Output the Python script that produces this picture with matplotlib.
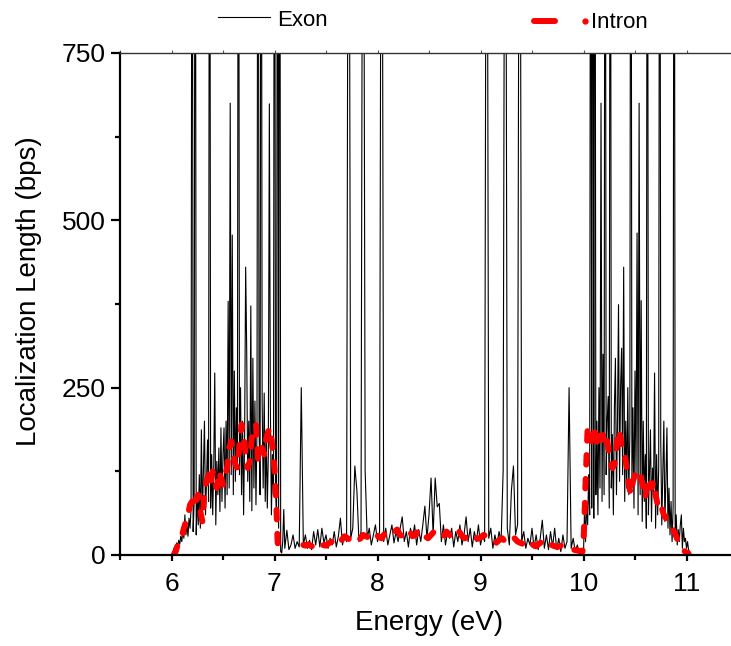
import numpy as np
import matplotlib
matplotlib.use("Agg")
import matplotlib.pyplot as plt
from matplotlib.lines import Line2D
from matplotlib.ticker import MultipleLocator

plt.rcParams["font.family"] = ["Liberation Sans", "DejaVu Sans"]

# Exon localization length, lower band (6.00 - 7.09 eV, step 0.01)
EXON_LOW_START, EXON_LOW_STEP = 6.00, 0.01
exon_low = [
    0, 3, 8, 12, 10, 18, 14, 22, 16, 28,
    20, 38, 25, 60, 30, 45, 28, 55, 40, 70,
    1500, 35, 80, 1500, 30, 90, 45, 120, 40, 187,
    55, 130, 200, 60, 110, 172, 80, 1500, 70, 150,
    60, 130, 272, 45, 140, 90, 160, 65, 190, 80,
    150, 190, 70, 200, 90, 379, 100, 675, 120, 478,
    90, 275, 110, 220, 130, 1500, 120, 250, 90, 200,
    60, 180, 430, 307, 110, 200, 80, 372, 66, 294,
    100, 230, 75, 190, 1500, 196, 90, 1500, 230, 100,
    242, 80, 180, 70, 150, 674, 220, 60, 150, 90,
    1500, 100, 50, 1500, 40, 1500, 5, 3, 20, 68,
]

# Exon, gap region (7.10 - 9.98 eV, step 0.02)
EXON_MID_START, EXON_MID_STEP = 7.10, 0.02
exon_mid = [
    10, 37, 8, 15, 30, 10, 20, 12, 250, 15,
    30, 10, 22, 8, 35, 15, 38, 12, 40, 18,
    30, 10, 25, 15, 35, 12, 28, 55, 15, 30,
    20, 1500, 25, 40, 133, 96, 20, 35, 1500, 126,
    25, 40, 15, 30, 45, 20, 35, 1500, 20, 40,
    15, 30, 45, 18, 35, 20, 40, 57, 20, 35,
    12, 40, 25, 45, 15, 38, 20, 45, 73, 25,
    60, 115, 30, 115, 72, 77, 20, 45, 15, 35,
    25, 40, 12, 35, 20, 45, 15, 30, 57, 20,
    40, 12, 35, 20, 45, 15, 30, 20, 1500, 25,
    40, 10, 30, 15, 35, 20, 126, 1500, 40, 15,
    96, 133, 30, 45, 1500, 20, 35, 10, 25, 15,
    40, 10, 30, 8, 25, 52, 10, 30, 8, 35,
    12, 40, 8, 25, 5, 30, 10, 20, 250, 10,
    25, 5, 15, 3, 5,
]

# Exon, upper band (10.00 - 11.05 eV, step 0.01)
EXON_HIGH_START, EXON_HIGH_STEP = 10.00, 0.01
exon_high = [
    2, 68, 20, 80, 45, 120, 60, 1500, 70, 1500,
    55, 1500, 90, 200, 60, 250, 100, 675, 80, 300,
    90, 1500, 120, 200, 237, 70, 1500, 100, 180, 60,
    220, 294, 90, 200, 374, 110, 250, 309, 120, 430,
    80, 200, 100, 250, 90, 180, 1500, 100, 220, 70,
    275, 120, 481, 60, 675, 90, 380, 50, 200, 80,
    150, 40, 1500, 60, 120, 187, 50, 130, 90, 272,
    40, 150, 60, 130, 1500, 172, 45, 120, 200, 50,
    110, 190, 40, 100, 30, 80, 20, 70, 1500, 25,
    60, 15, 38, 20, 45, 60, 10, 40, 20, 25,
    10, 20, 8, 5, 2, 0,
]

# Intron localization length
intron_energy = [
    6.02, 6.04, 6.06, 6.08, 6.10, 6.12, 6.14, 6.16, 6.18, 6.20,
    6.22, 6.24, 6.26, 6.28, 6.30, 6.32, 6.34, 6.36, 6.38, 6.40,
    6.42, 6.44, 6.46, 6.48, 6.50, 6.52, 6.54, 6.56, 6.58, 6.60,
    6.62, 6.64, 6.66, 6.68, 6.70, 6.72, 6.74, 6.76, 6.78, 6.80,
    6.82, 6.84, 6.86, 6.88, 6.90, 6.92, 6.94, 6.96, 6.98, 7.00,
    7.01, 7.02, 7.03, 7.04, 7.07, 7.15,
    7.28, 7.30, 7.33, 7.36, 7.40, 7.43, 7.46, 7.50, 7.53, 7.56,
    7.59, 7.62, 7.65, 7.68, 7.71, 7.74, 7.77, 7.80, 7.83, 7.86,
    7.89, 7.92, 7.95, 7.98, 8.01, 8.04, 8.07, 8.10, 8.13, 8.16,
    8.19, 8.22, 8.25, 8.28, 8.31, 8.34, 8.37, 8.40, 8.43, 8.46,
    8.49, 8.52, 8.55, 8.58, 8.61, 8.64, 8.67, 8.70, 8.73, 8.76,
    8.79, 8.82, 8.85, 8.88, 8.91, 8.94, 8.97, 9.00, 9.03, 9.06,
    9.09, 9.12, 9.15, 9.18, 9.21, 9.24, 9.27, 9.30, 9.33, 9.36,
    9.39, 9.42, 9.45, 9.48, 9.51, 9.54, 9.57, 9.60, 9.63, 9.66,
    9.69, 9.72, 9.75, 9.78, 9.81, 9.84, 9.87, 9.90, 9.93, 9.96,
    9.99, 10.00, 10.01, 10.02, 10.03, 10.04, 10.06, 10.08, 10.10, 10.12,
    10.14, 10.16, 10.18, 10.20, 10.22, 10.24, 10.26, 10.28, 10.30, 10.32,
    10.34, 10.36, 10.38, 10.40, 10.42, 10.44, 10.46, 10.48, 10.50, 10.52,
    10.54, 10.56, 10.58, 10.60, 10.62, 10.64, 10.66, 10.68, 10.70, 10.72,
    10.74, 10.76, 10.78, 10.80, 10.82, 10.84, 10.86, 10.88, 10.90, 10.92,
    10.94, 10.96, 10.98, 11.00, 11.02,
]
intron_length = [
    0, 5, 15, 22, 28, 40, 50, 60, 75, 80,
    70, 85, 90, 65, 50, 95, 110, 120, 105, 125,
    110, 100, 125, 115, 105, 120, 130, 160, 170, 150,
    135, 130, 165, 195, 180, 150, 130, 140, 175, 190,
    195, 140, 150, 160, 150, 175, 185, 190, 160, 130,
    100, 65, 20, 3, 2, np.nan,
    15, 14, 16, 13, 17, 20, 15, 14, 18, 20,
    24, 18, 22, 28, 25, 22, 28, 26, 24, 30,
    28, 25, 30, 33, 27, 25, 32, 30, 28, 34,
    38, 30, 27, 33, 36, 28, 30, 38, 33, 28,
    25, 30, 35, 32, 26, 28, 35, 30, 26, 34,
    36, 28, 25, 30, 32, 28, 24, 26, 30, 28,
    24, 20, 18, 22, 25, 20, 17, 22, 25, 20,
    18, 16, 20, 22, 15, 13, 17, 20, 14, 12,
    15, 13, 12, 14, 11, 10, 9, 8, 7, 6,
    5, 20, 60, 110, 150, 190, 180, 170, 192, 175,
    165, 180, 172, 185, 178, 160, 140, 130, 135, 160,
    187, 175, 155, 150, 130, 105, 90, 110, 120, 118,
    125, 115, 100, 85, 110, 115, 100, 110, 90, 75,
    80, 70, 60, 55, 48, 45, 40, 35, 28, 20,
    15, 10, 6, 3, 2,
]


def band_energy(start, step, values):
    return start + step * np.arange(len(values))


def main():
    exon_energy = np.concatenate([
        band_energy(EXON_LOW_START, EXON_LOW_STEP, exon_low),
        band_energy(EXON_MID_START, EXON_MID_STEP, exon_mid),
        band_energy(EXON_HIGH_START, EXON_HIGH_STEP, exon_high),
    ])
    exon_length = np.array(exon_low + exon_mid + exon_high, dtype=float)

    fig = plt.figure(figsize=(7.31, 6.46), dpi=100)
    # right edge of the frame runs past the figure, as in the original
    ax = fig.add_axes([120 / 731, 91 / 646, 618 / 731, 502 / 646])

    ax.plot(exon_energy, exon_length, color="black", linewidth=0.8)
    ax.plot(intron_energy, intron_length, color="#ff0000", linewidth=4.3,
            linestyle=(0, (1.6, 2.4)), dash_capstyle="round",
            solid_capstyle="round")

    ax.set_xlim(5.5, 11.5)
    ax.set_ylim(0, 750)
    ax.xaxis.set_major_locator(MultipleLocator(1))
    ax.xaxis.set_minor_locator(MultipleLocator(0.5))
    ax.yaxis.set_major_locator(MultipleLocator(250))
    ax.yaxis.set_minor_locator(MultipleLocator(125))

    ax.tick_params(axis="x", which="major", direction="out", length=4.5,
                   width=1.6, labelsize=19, pad=8)
    ax.tick_params(axis="x", which="minor", direction="out", length=3.4,
                   width=1.6)
    ax.tick_params(axis="y", which="major", direction="out", length=6.5,
                   width=1.6, labelsize=19, pad=4)
    ax.tick_params(axis="y", which="minor", direction="out", length=3.8,
                   width=1.6)

    for side in ("left", "bottom"):
        ax.spines[side].set_linewidth(1.6)
    ax.spines["top"].set_linewidth(1.0)
    ax.spines["top"].set_color("#333333")

    top = ax.secondary_xaxis("top")
    top.xaxis.set_major_locator(MultipleLocator(0.5))
    top.tick_params(axis="x", direction="out", length=2, width=0.8,
                    labelsize=0, colors="#555555")
    top.set_xticklabels([])
    top.spines["top"].set_visible(False)

    ax.set_xlabel("Energy (eV)", fontsize=20, labelpad=10)
    ax.set_ylabel("Localization Length (bps)", fontsize=20)
    ax.yaxis.set_label_coords(-0.127, 0.525)

    # legend drawn above the frame
    y_exon = 1 - 17 / 646
    fig.add_artist(Line2D([218 / 731, 270 / 731], [y_exon, y_exon],
                          color="black", linewidth=0.8))
    fig.text(277 / 731, 1 - 26 / 646, "Exon", fontsize=16, va="baseline")
    y_intron = 1 - 21 / 646
    fig.add_artist(Line2D([534 / 731, 555 / 731], [y_intron, y_intron],
                          color="#ff0000", linewidth=4.3,
                          solid_capstyle="round"))
    fig.add_artist(Line2D([585 / 731], [y_intron], color="#ff0000",
                          marker="o", markersize=3.5, linestyle="none"))
    fig.text(591 / 731, 1 - 28 / 646, "Intron", fontsize=16, va="baseline")

    fig.savefig("out.png", dpi=100)
    plt.close(fig)


if __name__ == "__main__":
    main()
